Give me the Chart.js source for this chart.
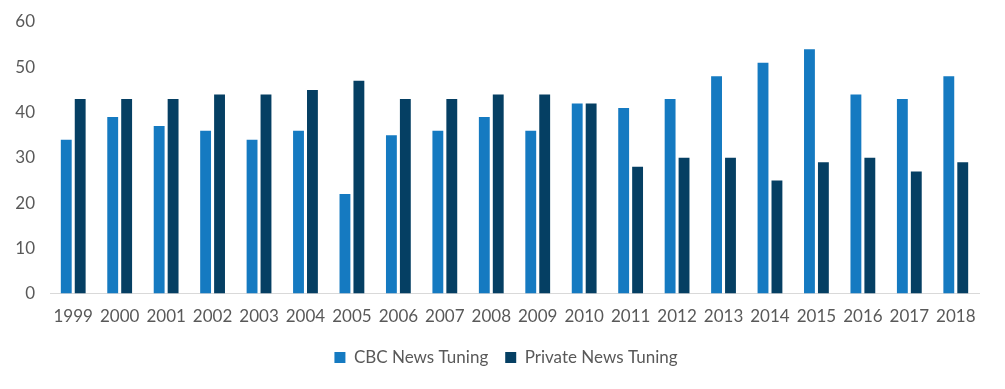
<!DOCTYPE html>
<html><head><meta charset="utf-8">
<script src="https://cdn.jsdelivr.net/npm/chart.js@4"></script>
<style>html,body{margin:0;padding:0;background:#fff}#w{width:1005px;height:389px}</style>
</head><body><div id="w"><canvas id="c"></canvas></div>
<script>
const categories = ["1999","2000","2001","2002","2003","2004","2005","2006","2007","2008","2009","2010","2011","2012","2013","2014","2015","2016","2017","2018"];
const cbcValues = [34,39,37,36,34,36,22,35,36,39,36,42,41,43,48,51,54,44,43,48];
const privateValues = [43,43,43,44,44,45,47,43,43,44,44,42,28,30,30,25,29,30,27,29];
const yTicks = [0,10,20,30,40,50,60];

Chart.defaults.font.family = "Lato, 'Open Sans', sans-serif";
Chart.defaults.color = "#595959";
new Chart(document.getElementById('c'), {
  type: 'bar',
  data: {
    labels: categories,
    datasets: [
      {label: 'CBC News Tuning', data: cbcValues, backgroundColor: '#157ac1', barPercentage: 0.78, categoryPercentage: 0.6},
      {label: 'Private News Tuning', data: privateValues, backgroundColor: '#053f63', barPercentage: 0.78, categoryPercentage: 0.6}
    ]
  },
  options: {
    responsive: true, maintainAspectRatio: false, animation: false,
    layout: {padding: {left: 7, right: 0, top: 22, bottom: 13}},
    plugins: {
      legend: {position: 'bottom', labels: {boxWidth: 11, boxHeight: 11, padding: 17, font: {size: 17}}},
      tooltip: {enabled: false}
    },
    scales: {
      x: {grid: {display: false}, border: {color: '#d9d9d9', width: 1}, ticks: {font: {size: 17}, padding: 5}},
      y: {min: 0, max: 60, afterBuildTicks: a => { a.ticks = yTicks.map(v => ({value: v})); },
          afterFit: s => { s.width = 43; s.paddingTop = 0; },
          grid: {display: false}, border: {display: false}, ticks: {font: {size: 17}, padding: 7}},
      yRight: {position: 'right', display: true, afterFit: s => { s.width = 26; },
          grid: {display: false}, border: {display: false}, ticks: {display: false}}
    }
  }
});
</script></body></html>
